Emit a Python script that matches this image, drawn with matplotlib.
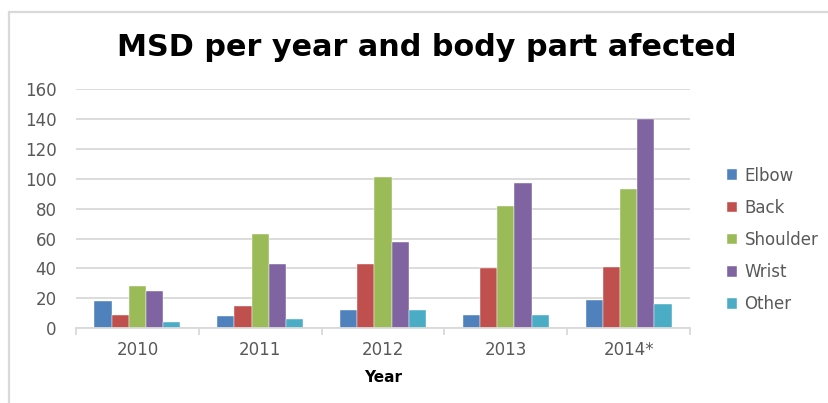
import matplotlib
matplotlib.use("Agg")
import matplotlib.pyplot as plt
from matplotlib.patches import Rectangle
import numpy as np

years = ["2010", "2011", "2012", "2013", "2014*"]
series_names = ["Elbow", "Back", "Shoulder", "Wrist", "Other"]
elbow = [18, 8, 12, 9, 19]
back = [9, 15, 43, 40, 41]
shoulder = [28, 63, 101, 82, 93]
wrist = [25, 43, 58, 97, 140]
other = [4, 6.5, 12, 9, 16.5]
colors = ["#4F81BD", "#C0504D", "#9BBB59", "#8064A2", "#4BACC6"]
yticks = [0, 20, 40, 60, 80, 100, 120, 140, 160]

W, H = 829, 403
fig = plt.figure(figsize=(W / 100, H / 100), dpi=100)
fig.patch.set_facecolor("white")

# chart area frame (open to the right and bottom)
frame = Rectangle((9.5 / W, -0.1), 1.2, 1 - 11.5 / H + 0.1, transform=fig.transFigure,
                  fill=False, edgecolor="#D9D9D9", linewidth=1.6)
fig.add_artist(frame)

ax = fig.add_axes([76 / W, 1 - 328.3 / H, (690 - 76) / W, (328.3 - 89) / H])
ax.set_facecolor("white")

data = [elbow, back, shoulder, wrist, other]
x = np.arange(len(years))
bw = 0.14
for i, (vals, c, name) in enumerate(zip(data, colors, series_names)):
    ax.bar(x + (i - 2) * bw, vals, width=bw, color=c, label=name, zorder=3,
           edgecolor="white", linewidth=0.3)

ax.set_xlim(-0.5, len(years) - 0.5)
ax.set_ylim(0, 160)
ax.set_yticks(yticks)
ax.yaxis.grid(True, color="#D9D9D9", linewidth=1.3, zorder=0)
ax.set_axisbelow(True)
for s in ["left", "right", "top"]:
    ax.spines[s].set_visible(False)
ax.spines["bottom"].set_color("#D9D9D9")
ax.spines["bottom"].set_linewidth(1.3)
ax.spines["bottom"].set_zorder(4)

# category labels centred, tick marks on the boundaries
ax.set_xticks(x)
ax.set_xticklabels(years)
ax.tick_params(axis="x", length=0, pad=9.5, labelsize=12, labelcolor="#595959")
ax.set_xticks(np.arange(-0.5, len(years)), minor=True)
ax.tick_params(axis="x", which="minor", length=5, width=1.3, color="#D9D9D9")
ax.tick_params(axis="y", length=0, pad=14, labelsize=12, labelcolor="#595959")

ax.set_xlabel("Year", fontsize=11, fontweight="bold", labelpad=7.5, color="black")

fig.text(0.5 * (117 + 737) / W, 1 - 47 / H, "MSD per year and body part afected",
         ha="center", va="center", fontsize=21.8, fontweight="bold", color="black")

leg = ax.legend(loc="center left", bbox_to_anchor=(712 / W, 1 - 240 / H),
                bbox_transform=fig.transFigure, frameon=False, fontsize=12,
                handlelength=0.6, handleheight=0.6, handletextpad=0.45,
                labelspacing=0.85, labelcolor="#595959")

fig.savefig("out.png", dpi=100, facecolor="white")
